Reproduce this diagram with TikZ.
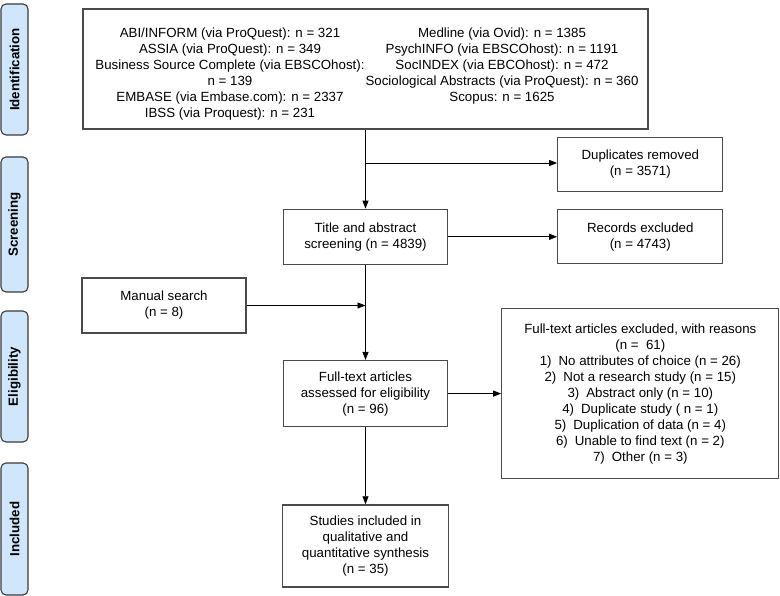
\documentclass[tikz,border=0pt]{standalone}
\usepackage{fontspec}
\setmainfont{Liberation Sans}
\usepackage{tikz}
\usetikzlibrary{arrows.meta,positioning}
\definecolor{stageblue}{HTML}{D0E6FA}
\definecolor{boxgray}{HTML}{4A4A4A}
\definecolor{stagegray}{HTML}{3A3A3A}

\begin{document}
\begin{tikzpicture}[
    x=1pt,y=1pt,
    font=\fontsize{13.3}{16}\selectfont,
    box/.style={draw=boxgray,line width=1.3pt,align=center,inner sep=2pt},
    txt/.style={align=center,inner sep=0pt},
    stage/.style={draw=stagegray,line width=1.1pt,rounded corners=5pt,fill=stageblue,rotate=90,minimum height=27pt,font=\fontsize{13.3}{16}\selectfont\bfseries},
    arr/.style={-{Triangle[length=8pt,width=6pt]},line width=0.9pt,black}
  ]
  \useasboundingbox (0,0) rectangle (780,-596);
  \node[stage,minimum width=131pt] (ident) at (14.5,-69.5) {Identification};
  \node[stage,minimum width=135pt] (screen) at (14.5,-224.5) {Screening};
  \node[stage,minimum width=131pt] (elig) at (14.5,-376.5) {Eligibility};
  \node[stage,minimum width=132pt] (incl) at (14.5,-529) {Included};

  \node[box,minimum width=565pt,minimum height=120pt] (search) at (365.5,-69) {};
  \node[txt,anchor=north] (dbleft) at (230,-28) {ABI/INFORM (via ProQuest): n = 321\\ASSIA (via ProQuest): n = 349\\Business Source Complete (via EBSCOhost):\\n = 139\\EMBASE (via Embase.com): n = 2337\\IBSS (via Proquest): n = 231};
  \node[txt,anchor=north] (dbright) at (502,-28) {Medline (via Ovid): n = 1385\\PsychINFO (via EBSCOhost): n = 1191\\SocINDEX (via EBCOhost): n = 472\\Sociological Abstracts (via ProQuest): n = 360\\Scopus: n = 1625};

  \node[box,minimum width=164pt,minimum height=55pt,below=79pt of search] (title) {Title and abstract\\screening (n = 4839)};
  \node[box,minimum width=165pt,minimum height=54pt,right=109pt of title] (records) {Records excluded\\(n = 4743)};
  \node[box,minimum width=165pt,minimum height=54pt,above=17pt of records] (dup) {Duplicates removed\\(n = 3571)};
  \node[box,minimum width=164pt,minimum height=55pt] (manual) at (164,-305.5) {Manual search\\(n = 8)};
  \node[box,minimum width=164pt,minimum height=66pt,below=95pt of title] (fulltext) {Full-text articles\\assessed for eligibility\\(n = 96)};
  \node[box,minimum width=277pt,minimum height=170pt,right=53pt of fulltext] (excluded) {Full-text articles excluded, with reasons\\(n =\ \ 61)\\1)\hspace{7pt}No attributes of choice (n = 26)\\2)\hspace{7pt}Not a research study (n = 15)\\3)\hspace{7pt}Abstract only (n = 10)\\4)\hspace{7pt}Duplicate study ( n = 1)\\5)\hspace{7pt}Duplication of data (n = 4)\\6)\hspace{7pt}Unable to find text (n = 2)\\7)\hspace{7pt}Other (n = 3)};
  \node[box,minimum width=166pt,minimum height=82pt,below=77pt of fulltext] (studies) {Studies included in\\qualitative and\\quantitative synthesis\\(n = 35)};

  \draw[arr] (search.south) -- (title.north);
  \draw[arr] (search.south |- 0,-163) -- (dup.west |- 0,-163);
  \draw[arr] (title.east) -- (records.west);
  \draw[arr] (title.south) -- (fulltext.north);
  \draw[arr] (manual.east) -- (manual.east -| title.south);
  \draw[arr] (fulltext.east) -- (excluded.west);
  \draw[arr] (fulltext.south) -- (studies.north);
\end{tikzpicture}
\end{document}
